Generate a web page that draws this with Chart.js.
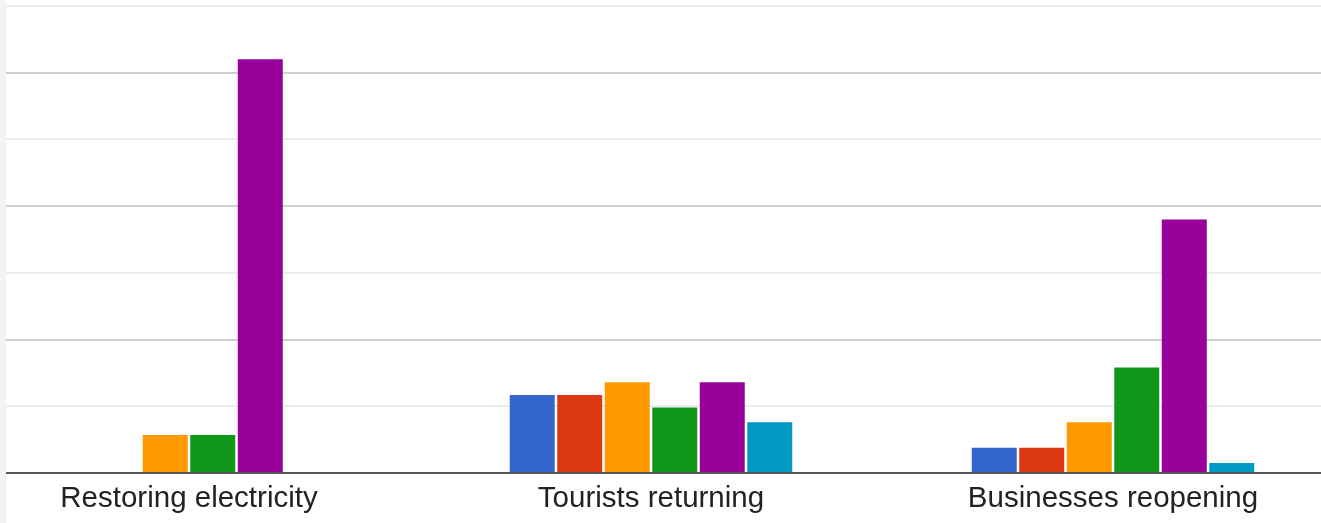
<!DOCTYPE html>
<html>
<head>
<meta charset="utf-8">
<script src="https://cdn.jsdelivr.net/npm/chart.js@4/dist/chart.umd.min.js"></script>
<style>
  html, body { margin: 0; padding: 0; background: #f3f3f3; overflow: hidden; }
  #wrap { position: absolute; left: 6px; top: 0; width: 1315px; height: 523px; overflow: hidden; background: #fff; }
  #box { position: absolute; left: -48.5px; top: 0; width: 1386px; height: 523px; }
</style>
</head>
<body>
<div id="wrap"><div id="box"><canvas id="grafico"></canvas></div></div>
<script>
// ---------------- dados ----------------
const categorias = ["Restoring electricity", "Tourists returning", "Businesses reopening"];
const serieNomes = ["Option 1", "Option 2", "Option 3", "Option 4", "Option 5", "Option 6"];
const serie1 = [0, 5.85, 1.9];
const serie2 = [0, 5.85, 1.9];
const serie3 = [2.85, 6.8, 3.8];
const serie4 = [2.85, 4.9, 7.9];
const serie5 = [31, 6.8, 19];
const serie6 = [0, 3.8, 0.75];
const cores = ["#3366cc", "#dc3912", "#ff9900", "#109618", "#990099", "#0099c6"];
const eixoMax = 35;
const passo = 5;

const valores = [serie1, serie2, serie3, serie4, serie5, serie6];

let grafico = new Chart(document.getElementById("grafico"), {
    type: 'bar',
    data: {
        labels: categorias,
        datasets: valores.map((v, i) => ({
            label: serieNomes[i],
            data: v,
            backgroundColor: cores[i],
            barPercentage: 0.947,
            categoryPercentage: 0.617
        }))
    },
    options: {
        responsive: true,
        maintainAspectRatio: false,
        animation: false,
        layout: { padding: { top: 6, left: 0, right: 0, bottom: 0 } },
        plugins: {
            legend: { display: false },
            title: { display: false },
            tooltip: { enabled: false }
        },
        scales: {
            x: {
                grid: { display: false, drawTicks: false },
                border: { display: true, color: "#555555", width: 2 },
                ticks: {
                    color: "#222222",
                    padding: 8,
                    font: { family: "'Liberation Sans', Arial, sans-serif", size: 29.5 }
                },
                afterFit: s => { s.height = 50; }
            },
            y: {
                min: 0,
                max: eixoMax,
                ticks: { display: false, stepSize: passo },
                border: { display: false },
                grid: {
                    drawTicks: false,
                    lineWidth: 2,
                    color: ctx => {
                        const v = ctx.tick.value;
                        if (v === 0) return "rgba(0,0,0,0)";
                        return (v / passo) % 2 === 0 ? "#cfcfcf" : "#ececec";
                    }
                },
                afterFit: s => { s.width = 0; }
            }
        }
    }
});
</script>
</body>
</html>
